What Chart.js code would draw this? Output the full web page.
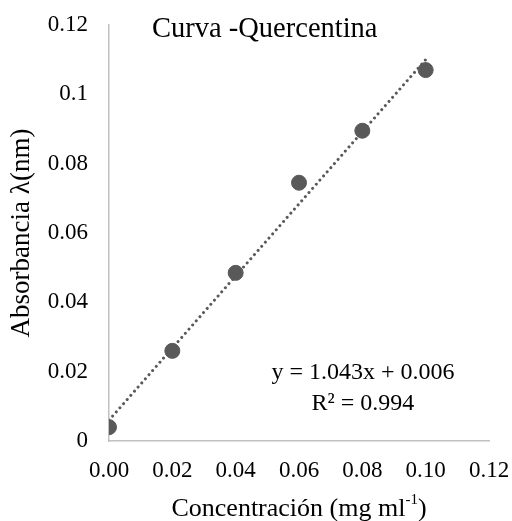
<!DOCTYPE html>
<html><head><meta charset="utf-8">
<script src="https://cdn.jsdelivr.net/npm/chart.js@4/dist/chart.umd.min.js"></script>
<style>html,body{margin:0;padding:0;background:#fff}#wrap{width:512px;height:521px}</style>
</head><body><div id="wrap"><canvas id="c" width="512" height="521"></canvas></div>
<script>
const concentrations = [0.00, 0.02, 0.04, 0.06, 0.08, 0.10];
const absorbances = [0.004, 0.026, 0.0485, 0.0745, 0.0895, 0.107];
const trendX = [0.0, 0.10];
const trendY = [0.006, 0.110];
const xTicks = ["0.00","0.02","0.04","0.06","0.08","0.10","0.12"];
const yTicks = ["0","0.02","0.04","0.06","0.08","0.1","0.12"];
const titleText = "Curva -Quercentina";
const equationText = "y = 1.043x + 0.006";
const r2Text = "R² = 0.994";
const xTitleMain = "Concentración (mg ml";
const xTitleSup = "-1";
const yTitleText = "Absorbancia λ(nm)";

const FONT = "'Liberation Serif', 'Times New Roman', serif";
const GREY = '#595959';

const overlay = {
  id: 'overlay',
  afterDraw(chart) {
    const ctx = chart.ctx;
    const xs = chart.scales.x, ys = chart.scales.y;
    ctx.save();
    ctx.fillStyle = '#000';
    ctx.textBaseline = 'middle';
    ctx.font = '28.5px ' + FONT;
    ctx.textAlign = 'left';
    ctx.fillText(titleText, 152, 30);
    ctx.font = '24px ' + FONT;
    ctx.textAlign = 'center';
    const cx = xs.getPixelForValue(0.0802);
    ctx.fillText(equationText, cx, ys.getPixelForValue(0.0196));
    ctx.fillText(r2Text, cx, ys.getPixelForValue(0.0107));
    // x title with superscript
    const mainFont = '26px ' + FONT;
    const supFont = '15px ' + FONT;
    ctx.font = mainFont;
    const w1 = ctx.measureText(xTitleMain).width;
    ctx.font = supFont;
    const w2 = ctx.measureText(xTitleSup).width;
    ctx.font = mainFont;
    const w3 = ctx.measureText(')').width;
    const total = w1 + w2 + w3;
    const mid = (xs.left + xs.right) / 2;
    let x0 = mid - total / 2;
    const yb = 509;
    ctx.textAlign = 'left';
    ctx.fillText(xTitleMain, x0, yb);
    ctx.font = supFont;
    ctx.fillText(xTitleSup, x0 + w1, yb - 9);
    ctx.font = mainFont;
    ctx.fillText(')', x0 + w1 + w2, yb);
    ctx.restore();
  }
};

new Chart(document.getElementById('c'), {
  type: 'scatter',
  data: {
    datasets: [
      {
        label: 'Trend',
        data: trendX.map((x, i) => ({x, y: trendY[i]})),
        showLine: true,
        borderColor: GREY,
        borderWidth: 3,
        borderDash: [0.01, 5.5],
        borderCapStyle: 'round',
        pointRadius: 0,
        fill: false,
        order: 2
      },
      {
        label: 'Absorbancia',
        data: concentrations.map((x, i) => ({x, y: absorbances[i]})),
        backgroundColor: GREY,
        borderColor: GREY,
        pointRadius: 7.5,
        pointHoverRadius: 7.5,
        order: 1
      }
    ]
  },
  options: {
    responsive: false,
    animation: false,
    devicePixelRatio: 1,
    layout: { padding: { top: 25, right: 23, left: 0, bottom: 0 } },
    plugins: { legend: { display: false }, tooltip: { enabled: false }, title: { display: false } },
    scales: {
      x: {
        type: 'linear', min: 0, max: 0.12,
        afterBuildTicks(s) { s.ticks = xTicks.map(t => ({value: parseFloat(t)})); },
        afterFit(s) { s.height = 80; s.paddingLeft = 0; s.paddingRight = 0; },
        grid: { display: false, drawTicks: false },
        border: { display: true, color: '#c0c0c0', width: 1.5 },
        ticks: {
          padding: 16, color: '#000', font: { family: FONT, size: 23 },
          maxRotation: 0, autoSkip: false,
          callback: (v, i) => xTicks[i]
        },
        title: { display: false }
      },
      y: {
        type: 'linear', min: 0, max: 0.12,
        afterBuildTicks(s) { s.ticks = yTicks.map(t => ({value: parseFloat(t)})); },
        afterFit(s) { s.width = 109; s.paddingTop = 0; s.paddingBottom = 0; },
        grid: { display: false, drawTicks: false },
        border: { display: true, color: '#c0c0c0', width: 1.5 },
        ticks: {
          padding: 21, color: '#000', font: { family: FONT, size: 23 },
          autoSkip: false,
          callback: (v, i) => yTicks[i]
        },
        title: { display: true, text: yTitleText, color: '#000', font: { family: FONT, size: 27 }, padding: { top: 6, bottom: 0 } }
      }
    }
  },
  plugins: [overlay]
});
</script></body></html>
